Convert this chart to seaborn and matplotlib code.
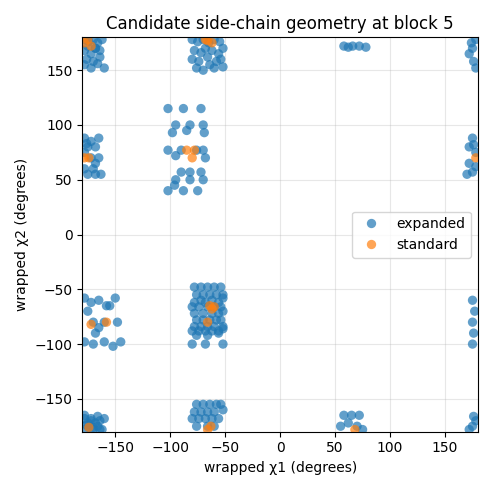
import matplotlib
matplotlib.use("Agg")
import matplotlib.pyplot as plt
import seaborn as sns
import pandas as pd

exp_chi1 = [
 -102,-88,-72,-95,-82,-70,-98,-85,-69,-102,-95,-90,-76,-70,-68,-90,-82,-72,-95,-82,-70,-96,-102,-88,-75,
 -178,-172,-168,-175,-165,-178,-172,-168,-165,-175,-168,-163,-178,-176,-170,
 175,172,178,172,175,178,170,176,
 -178,-174,-170,-166,-162,-178,-172,-168,-164,-176,-170,-164,-178,-172,-166,-160,-175,-168,
 178,175,172,176,178,174,
 -80,-75,-70,-65,-60,-55,-78,-72,-68,-62,-56,-52,-80,-74,-66,-58,-54,-76,-70,-64,-60,-52,
 58,62,66,72,78,
 -78,-72,-66,-60,-54,-76,-70,-64,-58,-52,-78,-72,-68,-62,-56,-52,-80,-74,-66,-60,-54,-78,-70,-62,-56,-52,
 -76,-70,-64,-58,-54,-78,-72,-66,-60,-52,-80,-74,-68,-62,-56,-52,-76,-66,-56,
 -80,-68,-52,
 -178,-172,-165,-158,-150,-170,-160,-148,-178,-170,-160,-152,-145,-165,-175,-168,-155,
 175,177,175,176,175,
 -178,-174,-170,-166,-162,-178,-172,-168,-164,-176,-170,-164,-178,-172,-166,-160,-175,
 178,175,172,176,
 -76,-70,-64,-58,-54,-78,-72,-66,-60,-52,-80,-74,-68,-62,-56,-76,-66,-60,
 58,65,72,55,62,70,75,
]
exp_chi2 = [
 115,115,115,100,100,100,93,95,93,77,72,77,77,77,70,57,57,57,50,50,50,45,40,40,40,
 88,85,80,80,88,60,70,65,70,55,55,55,75,83,60,
 88,80,75,65,57,62,55,82,
 178,176,178,175,178,168,165,170,168,160,158,162,155,152,156,152,172,170,
 178,170,165,158,152,175,
 178,176,178,175,178,176,168,166,170,168,165,170,160,158,162,158,160,152,150,155,152,153,
 172,171,172,172,171,
 -48,-48,-48,-48,-48,-55,-55,-55,-55,-55,-62,-60,-62,-60,-62,-58,-66,-66,-66,-66,-66,-72,-72,-72,-72,-70,
 -78,-78,-78,-78,-78,-84,-84,-84,-84,-84,-88,-88,-88,-88,-88,-86,-92,-92,-90,
 -100,-100,-100,
 -58,-62,-60,-65,-58,-80,-80,-80,-98,-100,-98,-102,-98,-85,-70,-90,-65,
 -60,-70,-80,-90,-100,
 -178,-176,-178,-175,-178,-168,-170,-172,-170,-174,-176,-178,-165,-168,-166,-168,-172,
 -170,-175,-178,-166,
 -155,-155,-155,-155,-155,-162,-162,-162,-162,-160,-168,-168,-168,-168,-168,-175,-175,-175,
 -165,-165,-165,-175,-172,-175,-178,
]
std_chi1 = [-85,-78,-80,-178,-174,178,-178,-175,-172,-66,-62,-68,-64,-62,-66,-60,-172,-158,-66,-63,68,-174]
std_chi2 = [77,77,70,70,70,70,175,178,172,177,175,178,-65,-68,-80,-66,-82,-80,-178,-175,-178,-176]

df = pd.DataFrame({
    "chi1": exp_chi1 + std_chi1,
    "chi2": exp_chi2 + std_chi2,
    "set": ["expanded"] * len(exp_chi1) + ["standard"] * len(std_chi1),
})

fig, ax = plt.subplots(figsize=(4.93, 4.90), dpi=100)
sns.scatterplot(data=df, x="chi1", y="chi2", hue="set", palette=["#1f77b4", "#ff7f0e"],
                alpha=0.7, s=45, edgecolor="none", ax=ax)
ax.set_xlim(-180, 180)
ax.set_ylim(-180, 180)
ax.grid(True, alpha=0.3)
ax.set_axisbelow(True)
ax.set_xlabel("wrapped χ1 (degrees)")
ax.set_ylabel("wrapped χ2 (degrees)")
ax.set_title("Candidate side-chain geometry at block 5")
ax.legend(loc="center right", title=None)
fig.tight_layout()
fig.savefig("out.png", dpi=100)
